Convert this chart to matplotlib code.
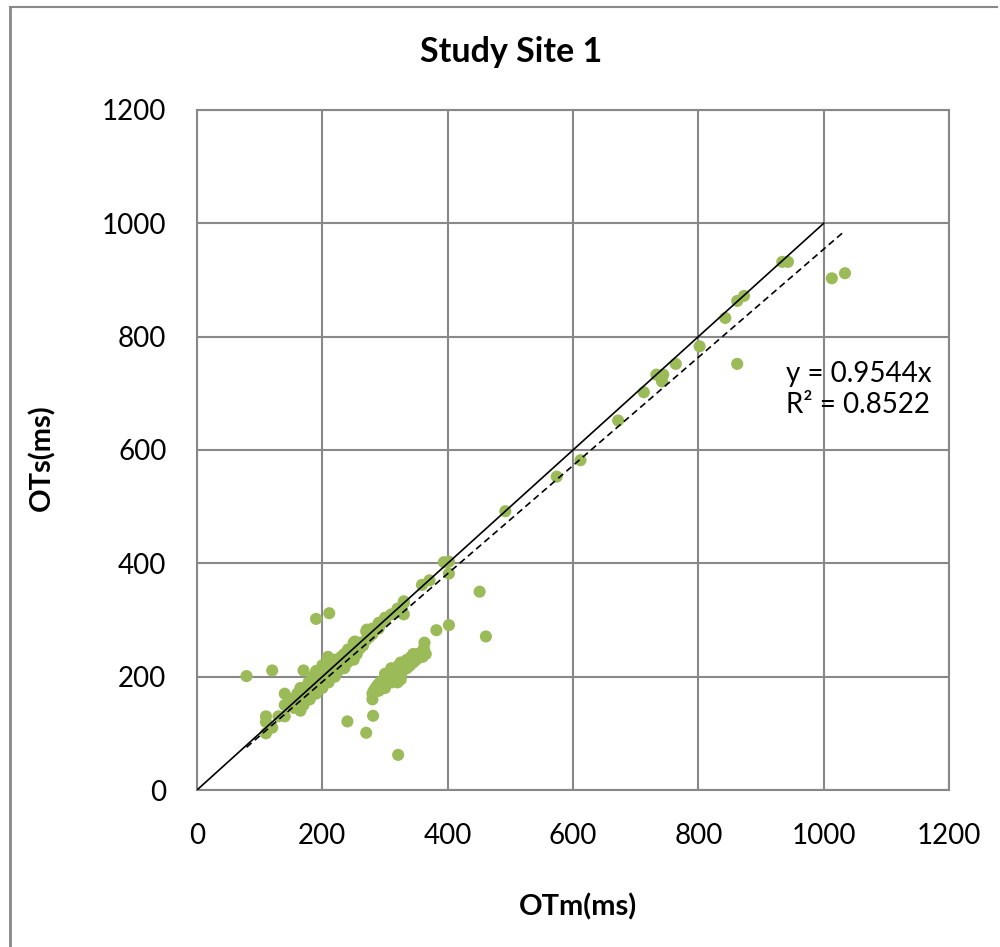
import matplotlib
matplotlib.use("Agg")
import matplotlib.pyplot as plt
from matplotlib.lines import Line2D

plt.rcParams['font.family'] = ['Lato', 'DejaVu Sans']

# Along-line cluster
main_x = [110,110,110,120,130,140,140,140,150,150,155,160,160,165,165,170,170,170,175,178,
          180,180,180,185,185,190,190,190,190,195,195,200,200,200,200,205,205,210,210,210,
          210,215,215,220,220,220,225,225,230,230,235,235,240,240,245,250,250,250,255,260,
          260,265,270,270,275,280,280,290,290,300,310,320,325,330,330,320,209,241,252,271,
          292,300,327,330]
main_y = [100,120,130,110,130,130,150,170,150,160,145,160,170,140,180,150,165,180,170,190,
          160,175,190,180,200,170,185,200,210,190,210,180,195,205,220,200,215,190,205,220,
          230,210,225,200,215,230,210,225,220,235,215,240,225,240,235,230,245,260,240,250,
          260,255,265,280,270,275,285,285,295,300,310,315,320,330,310,320,235,248,262,283,
          292,304,312,333]
# Lower cluster
low_x = [280,280,282,285,288,290,292,295,298,300,300,302,305,308,310,310,312,315,318,320,
         320,320,322,325,325,328,330,332,335,338,340,342,345,348,350,352,355,358,360,362,
         363,360,365,310,300,290,315,325,345,335,320,325]
low_y = [160,170,175,180,185,175,190,185,195,180,190,200,195,205,190,200,210,205,215,190,
         200,210,220,200,215,210,220,225,215,230,220,235,225,235,230,240,235,240,245,250,
         260,235,240,215,205,180,195,225,240,230,195,195]
# Outliers and upper range
out_x = [79,120,170,190,211,240,270,281,321,382,402,451,461,402,394,402,359,371,
         492,574,612,672,713,733,744,742,764,802,843,862,873,934,943,862,1013,1034]
out_y = [201,211,211,302,312,121,101,131,62,282,291,350,271,382,402,403,362,370,
         492,553,582,652,702,733,733,721,752,783,833,863,872,932,932,752,903,912]

xs = main_x + low_x + out_x
ys = main_y + low_y + out_y

slope = 0.9544
r2 = 0.8522
ticks = [0, 200, 400, 600, 800, 1000, 1200]

W, H = 1000, 947
fig = plt.figure(figsize=(W/100, H/100), dpi=100)
ax = fig.add_axes([197/W, 1 - 790/H, 752/W, (790-110)/H])

ax.scatter(xs, ys, s=76, color='#9BBB59', edgecolors='none', zorder=3)
ax.plot([0, 1000], [0, 1000], color='black', lw=1.2, zorder=4)
tx = [min(xs), max(xs)]
ax.plot(tx, [slope*t for t in tx], color='black', lw=1.2, ls=(0, (4, 2.5)), zorder=4)

ax.set_xlim(0, 1200)
ax.set_ylim(0, 1200)
ax.set_xticks(ticks)
ax.set_yticks(ticks)
ax.grid(True, color='#888888', lw=1.5)
ax.set_axisbelow(True)
for s in ax.spines.values():
    s.set_color('#888888')
    s.set_linewidth(1.5)
ax.tick_params(axis='both', length=0, labelsize=20)
ax.tick_params(axis='x', pad=24)
ax.tick_params(axis='y', pad=22)

fig.text(511/W, 1 - 52/H, 'Study Site 1', fontsize=24.5, fontweight='bold',
         ha='center', va='center')
fig.text(578/W, 1 - 907/H, 'OTm(ms)', fontsize=21, fontweight='bold',
         ha='center', va='center')
fig.text(42/W, 1 - 458/H, 'OTs(ms)', fontsize=21, fontweight='bold',
         ha='center', va='center', rotation=90)

ax.text(940, 707, 'y = 0.9544x\nR² = 0.8522', fontsize=20, linespacing=1.25,
        va='center', ha='left')

fig.add_artist(Line2D([0.010, 0.010], [0, 1 - 7/H], color='#888888', lw=2))
fig.add_artist(Line2D([0.010, 0.997], [1 - 7/H, 1 - 7/H], color='#888888', lw=1.5))

fig.savefig('out.png', dpi=100)
